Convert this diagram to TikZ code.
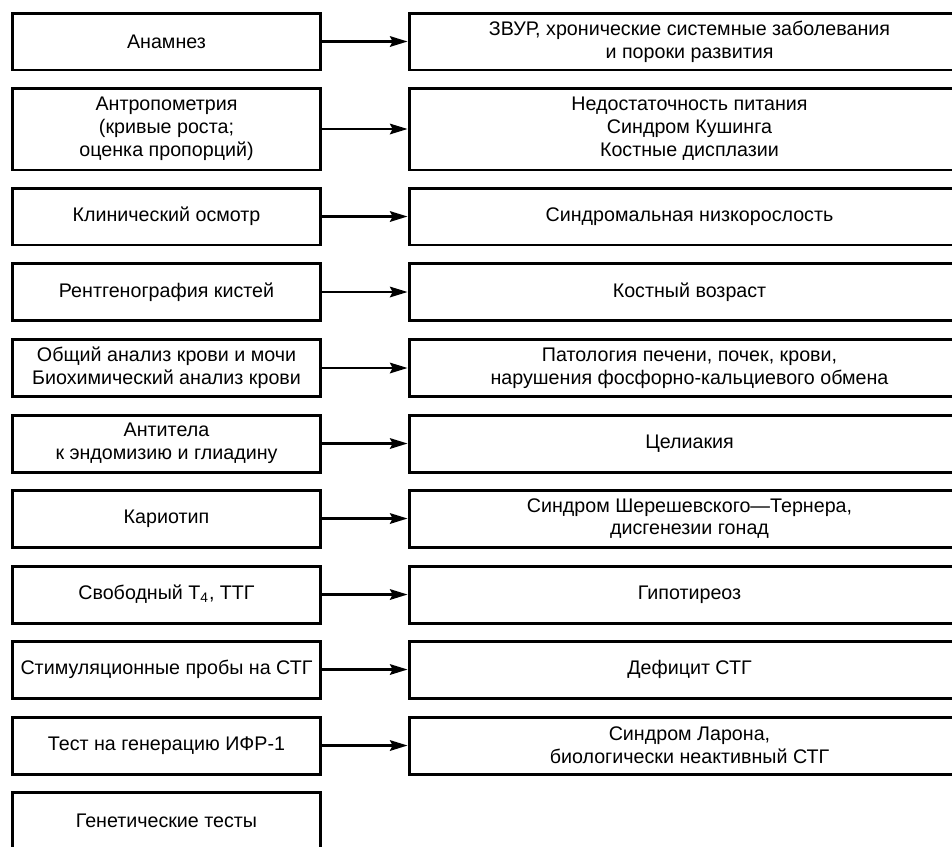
\documentclass[tikz,border=0pt]{standalone}
\usepackage{fontspec}
\setmainfont{Liberation Sans}
\usetikzlibrary{arrows.meta}
\begin{document}
\begin{tikzpicture}[x=.02cm,y=-.02cm,line join=miter,
  exam/.style={draw,line width=1.7pt,minimum width=6.18cm,inner sep=0pt,
    align=center,font=\fontsize{11.2}{13}\selectfont},
  finding/.style={exam,minimum width=11.22cm},
  flow/.style={-{Stealth[length=10pt,width=6pt,inset=1.5pt]},line width=1.4pt}]
  \path[use as bounding box,clip] (0,0) rectangle (952,846);
  \foreach \row/\ypos/\tall/\examtext/\findingtext in {
    1/41.5/1.14/{Анамнез}/{ЗВУР, хронические системные заболевания\\и пороки развития},
    2/129/1.64/{Антропометрия\\(кривые роста;\\оценка пропорций)}/{Недостаточность питания\\Синдром Кушинга\\Костные дисплазии},
    3/216.5/1.14/{Клинический осмотр}/{Синдромальная низкорослость},
    4/292/1.14/{Рентгенография кистей}/{Костный возраст},
    5/368/1.14/{Общий анализ крови и мочи\\Биохимический анализ крови}/{Патология печени, почек, крови,\\нарушения фосфорно-кальциевого обмена},
    6/443.5/1.14/{Антитела\\к эндомизию и глиадину}/{Целиакия},
    7/518.5/1.14/{Кариотип}/{Синдром Шерешевского—Тернера,\\дисгенезии гонад},
    8/594.5/1.14/{Свободный Т\textsubscript{4}, ТТГ}/{Гипотиреоз},
    9/669.5/1.14/{Стимуляционные пробы на СТГ}/{Дефицит СТГ},
    10/745.5/1.14/{Тест на генерацию ИФР-1}/{Синдром Ларона,\\биологически неактивный СТГ}} {
    \node[exam,minimum height=\tall cm] (exam\row) at (166.5,\ypos) {\examtext};
    \node[finding,minimum height=\tall cm] (find\row) at (689.5,\ypos) {\findingtext};
    \draw[flow] (exam\row.east) -- (find\row.west);
  }
  \node[exam,minimum height=1.14cm] (exam11) at (166.5,820.5) {Генетические тесты};
\end{tikzpicture}
\end{document}
